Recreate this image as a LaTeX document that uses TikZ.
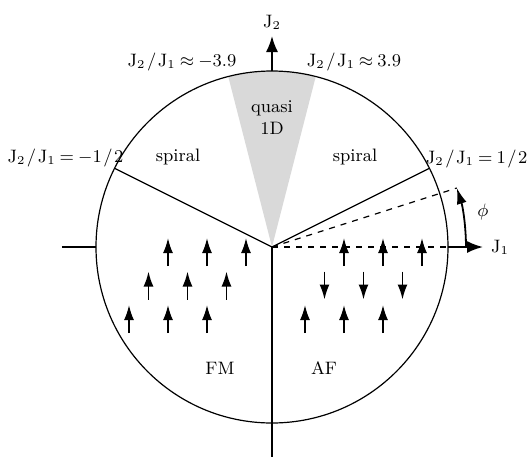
\documentclass[tikz,border=0pt]{standalone}
\usepackage{amsmath,amssymb}
\usetikzlibrary{arrows.meta}
\newcommand{\jratio}[2]{$\mathrm{J}_2\mkern1.5mu/\mkern1.5mu\mathrm{J}_1\mkern4mu{#1}\mkern4mu{#2}$}

\begin{document}
\begin{tikzpicture}[x=0.5pt,y=0.5pt,font=\small,line width=0.6pt,
  spin/.style={-{Latex[length=7.5pt,width=5pt]},line width=0.9pt}]
\useasboundingbox (-272,-210) rectangle (258,247);
\coordinate (O) at (0,0);
\coordinate (top) at (90:176);
\coordinate (bot) at (0,-210);
\coordinate (east) at (0:176);
\coordinate (west) at (-210,0);
\fill[gray!30] (O)--(75.6:176) arc (75.6:104.4:176)--cycle;
\draw (O) circle (176);
% phase boundaries
\draw (O)--(26.57:176);
\draw (O)--(153.43:176);
\draw (O)--(bot);
\draw (west)--(180:176);
% axes
\node (J2) at (0,225) {$\mathrm{J}_2$};
\node (J1) at (228,0) {$\mathrm{J}_1$};
\coordinate (J2tip) at (0,211);
\coordinate (J1tip) at (211,0);
\draw[-{Latex[length=8pt,width=6pt]},line width=0.9pt] (top)--(J2tip);
\draw[dashed] (O)--(east);
\draw[-{Latex[length=8pt,width=6pt]},line width=0.9pt] (east)--(J1tip);
\coordinate (phitip) at (17.7:194);
\draw[dashed] (O)--(phitip);
\draw[-{Latex[length=8pt,width=5pt]},line width=0.9pt] (0:194) arc (0:17.7:194);
\node (phi) at (211,35) {$\phi$};
% ratios on the rim
\node (r1) at (-90,185) {\jratio{\approx}{-3.9}};
\node (r2) at (82,185) {\jratio{\approx}{3.9}};
\node[anchor=west,inner sep=0pt] (r3) at (-265,89) {\jratio{=}{-1\mkern1.5mu/\mkern1.5mu2}};
\node[anchor=east,inner sep=0pt] (r4) at (256,88) {\jratio{=}{1\mkern1.5mu/\mkern1.5mu2}};
% phases
\node[align=center] (q1d) at (0,129) {quasi\\1D};
\node (spl) at (-94,90) {spiral};
\node (spr) at (83,90) {spiral};
\node (fm) at (-52,-121) {FM};
\node (af) at (52,-121) {AF};
% spins
\foreach \r in {0,1,2}
  \foreach \k in {0,1,2}
    \draw[spin] (-104-19.5*\r+39*\k,-19-33.5*\r)--++(0,28);
\foreach \r/\d in {0/1,1/-1,2/1}
  \foreach \k in {0,1,2}
    \draw[spin] (72-19.5*\r+39*\k,-5-33.5*\r-14*\d)--++(0,28*\d);
\end{tikzpicture}
\end{document}
